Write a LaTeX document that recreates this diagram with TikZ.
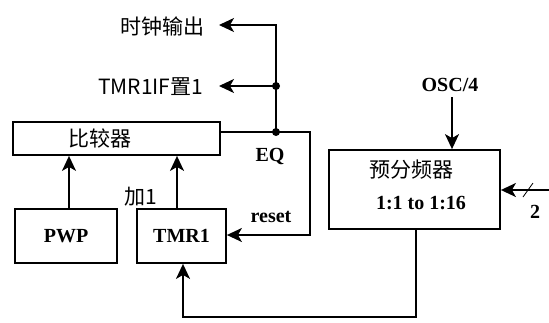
\documentclass[tikz,border=0pt]{standalone}
\usepackage{fontspec}
\setmainfont{Liberation Serif}
\newfontfamily\cjk{Noto Sans CJK SC}
\usetikzlibrary{arrows.meta}
\begin{document}
\begin{tikzpicture}[x=1pt,y=-1pt,
  line width=1.8pt,
  blk/.style={draw,line width=1.8pt,inner sep=0pt},
  arr/.style={-{Stealth[length=15pt,width=14pt,inset=4pt]}},
  lbl/.style={font=\bfseries\fontsize{20}{22}\selectfont,inner sep=0pt},
  clbl/.style={font=\cjk\fontsize{21}{23}\selectfont,inner sep=0pt},
  jdot/.style={circle,fill,inner sep=0pt,minimum size=8pt}]
\useasboundingbox (0,0) rectangle (549,322);
% boxes
\node[blk,minimum width=207pt,minimum height=33pt] (cmp) at (116.5,138.5) {};
\node[clbl] (cmptxt) at (100,138) {比较器};
\node[blk,minimum width=102pt,minimum height=54pt,lbl] (pwp) at (66,236) {PWP};
\node[blk,minimum width=89pt,minimum height=54pt,lbl] (tmr) at (181.5,236) {TMR1};
\node[blk,minimum width=171pt,minimum height=79pt] (pre) at (414.5,189.5) {};
\node[clbl] (pretxt) at (411,170) {预分频器};
\node[lbl] (ratio) at (421,203) {1:1 to 1:16};
% labels
\node[clbl,anchor=east] (clk) at (205,26) {时钟输出};
\node[clbl,anchor=east] (flag) at (204,87) {TMR1IF置1};
\node[lbl] (eq) at (270,156) {EQ};
\node[lbl] (rst) at (271,217) {reset};
\node[clbl] (add) at (141,197) {加1};
\node[lbl] (osc) at (450,85) {OSC/4};
\node[lbl] (two) at (535,212) {2};
% coordinates
\coordinate (j1) at (276,132);
\coordinate (j2) at (276,86);
\coordinate (ctop) at (276,25);
\coordinate (ea) at (310,132);
\coordinate (eb) at (310,235);
\coordinate (oscb) at (452,97);
\coordinate (rin) at (549,190);
\coordinate (fb1) at (416,317);
\coordinate (fb2) at (183,317);
\coordinate (clkend) at (219,25);
\coordinate (flagend) at (219,86);
% connectors
\draw (cmp.east |- j1) -- (j1);
\draw[arr] (j1) -- (j2) -- (ctop) -- (clkend);
\draw[arr] (j2) -- (flagend);
\draw[arr] (j1) -- (ea) -- (eb) -- (tmr.east |- eb);
\node[jdot] (d1) at (j1) {};
\node[jdot] (d2) at (j2) {};
\draw[arr] (pwp.north -| 69,0) -- (cmp.south -| 69,0);
\draw[arr] (tmr.north -| 177,0) -- (cmp.south -| 177,0);
\draw[arr] (oscb) -- (pre.north -| oscb);
\draw[arr] (rin) -- (pre.east |- rin);
\draw[line width=0.8pt] (523,197) -- (533,183);
\draw[arr] (pre.south -| fb1) -- (fb1) -- (fb2) -- (tmr.south -| fb2);
\end{tikzpicture}
\end{document}
